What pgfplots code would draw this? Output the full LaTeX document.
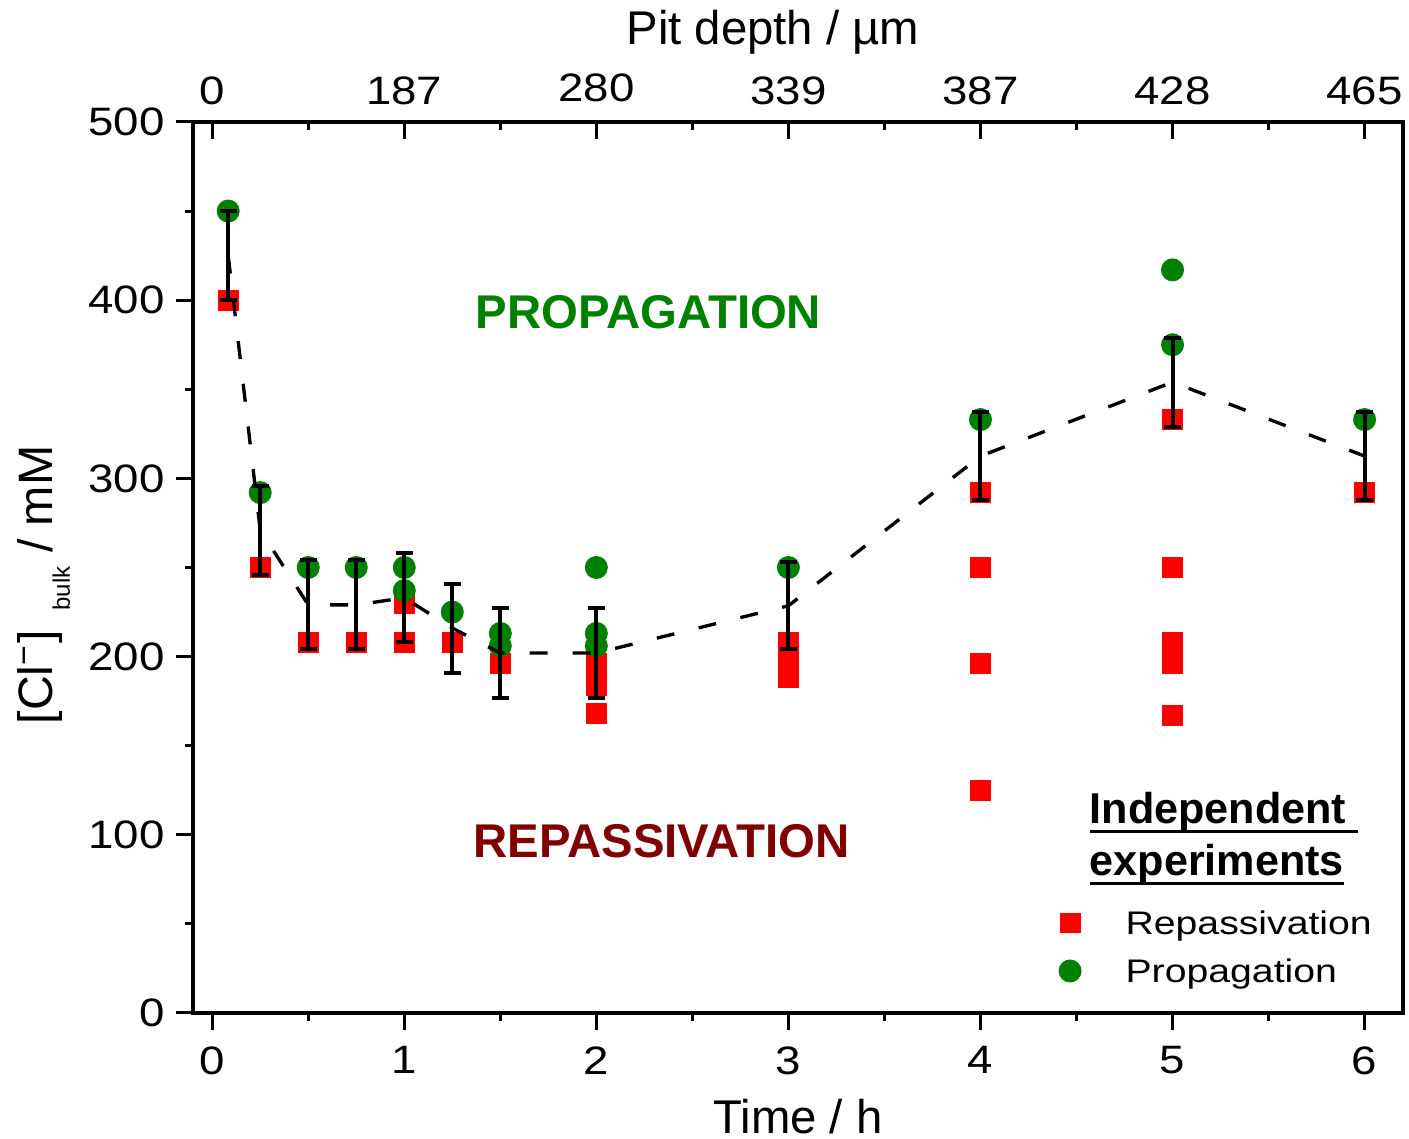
\documentclass[border=0pt]{standalone}
\usepackage{fontspec}
\setmainfont{Liberation Sans}
\newfontfamily\tickfont{Liberation Sans}[FakeStretch=1.15]
\newfontfamily\legfont{Liberation Sans}[FakeStretch=1.2]
\usepackage{pgfplots}
\pgfplotsset{compat=1.18}
\pgfplotsset{singlemark/.style={legend image code/.code={\draw[##1] plot coordinates {(0pt,0pt)};}}}
\definecolor{pgreen}{RGB}{0,128,0}
\definecolor{pred}{RGB}{255,0,0}
\definecolor{dred}{RGB}{128,0,0}
\newcommand\myul[1]{\setbox0=\hbox{#1}\leavevmode\rlap{\rule[-2.8pt]{\wd0}{1pt}}\box0}
\pgfplotstableread{
x y e
0.0833 425 25
0.25 271 25
0.5 229 25
0.75 229 25
1 233 25
1.25 216 25
1.5 202 25
2 202 25
3 228.5 24.5
4 312.5 24.5
5 354 25
6 312.5 24.5
}\meantable
\begin{document}
\begin{tikzpicture}
\begin{axis}[
  name=main, set layers,
  scale only axis, width=363pt, height=267.3pt,
  xmin=-0.1, xmax=6.2, ymin=0, ymax=500,
  axis line style={line width=1pt},
  xtick={0,1,2,3,4,5,6}, ytick={0,100,200,300,400,500},
  minor x tick num=1, minor y tick num=1,
  xtick pos=bottom, ytick pos=left,
  tick align=outside,
  major tick length=5pt, minor tick length=2.4pt,
  every tick/.style={black, line width=0.9pt},
  tick label style={font=\tickfont\fontsize{11.9pt}{14pt}\selectfont},
  xticklabel style={yshift=-1.5pt},
  /pgf/number format/assume math mode=true,
  xlabel={Time / h},
  ylabel={[Cl\textsuperscript{−}]\hspace{6pt}\raisebox{-5.1pt}{\fontsize{7.2pt}{8pt}\selectfont bulk}\ / mM},
  label style={font=\fontsize{14.2pt}{17pt}\selectfont},
  xlabel style={at={(axis description cs:0.5,-0.1358)}, anchor=base},
  ylabel style={at={(axis description cs:-0.1157,0.4804)}, anchor=base, font=\fontsize{14.5pt}{17pt}\selectfont},
  clip=false,
  legend style={draw=none, fill=none, at={(axis description cs:0.7159,0.1141)}, anchor=north west,
    inner sep=0pt, outer sep=0pt, font=\legfont\fontsize{9.8pt}{12pt}\selectfont,
    nodes={inner sep=0pt, text height=7pt, text depth=0pt}, row sep=7.4pt,
    /tikz/every odd column/.append style={column sep=13.4pt}},
  legend cell align=left,
]
\addplot[only marks, mark=square*, mark size=2.93pt, color=pred, singlemark]
coordinates {(0.0833,400)(0.25,250)(0.5,208)(0.75,208)(1,208)(1,230)(1.25,208)(1.5,196)
(2,196)(2,189)(2,184)(2,168)(3,208)(3,196)(3,188)(4,292)(4,250)(4,196)(4,125)
(5,333)(5,250)(5,208)(5,196)(5,167)(6,292)};
\addlegendentry{Repassivation}
\addplot[only marks, mark=*, mark size=3.25pt, color=pgreen, singlemark]
coordinates {(0.0833,450)(0.25,292)(0.5,250)(0.75,250)(1,250)(1,237)(1.25,225)(1.5,213)(1.5,206)
(2,250)(2,213)(2,206)(3,250)(4,333)(5,417)(5,375)(6,333)};
\addlegendentry{Propagation}
\addplot[black, line width=1pt, dash pattern=on 5.4pt off 7.5pt, mark=none, forget plot,
  on layer=axis foreground,
  error bars/.cd, y dir=both, y explicit,
  error bar style={solid, line width=1.2pt},
  error mark options={solid, rotate=90, mark size=2.55pt, line width=1.2pt}]
  table[x=x, y=y, y error=e] {\meantable};
\node[font=\bfseries\fontsize{14.2pt}{16pt}\selectfont, text=pgreen, inner sep=0pt] at (axis description cs:0.3764,0.7868) {PROPAGATION};
\node[font=\bfseries\fontsize{14.2pt}{16pt}\selectfont, text=dred, inner sep=0pt] at (axis description cs:0.3872,0.1925) {REPASSIVATION};
\node[anchor=base west, inner sep=0pt, font=\bfseries\fontsize{12.95pt}{15pt}\selectfont] at (axis description cs:0.7405,0.2126) {\myul{Independent\ }};
\node[anchor=base west, inner sep=0pt, font=\bfseries\fontsize{12.95pt}{15pt}\selectfont] at (axis description cs:0.7405,0.1542) {\myul{experiments}};
\end{axis}
\begin{axis}[
  scale only axis, width=363pt, height=267.3pt,
  xmin=-0.1, xmax=6.2, ymin=0, ymax=1,
  axis x line*=top, axis y line=none,
  axis line style={line width=1pt},
  xtick={0,1,2,3,4,5,6},
  xticklabels={0,\raisebox{-0.6pt}{187},\raisebox{1.2pt}{280},339,\raisebox{-0.9pt}{387},428,465},
  minor x tick num=1,
  tick align=inside,
  major tick length=5pt, minor tick length=2.4pt,
  every tick/.style={black, line width=0.9pt},
  tick label style={font=\tickfont\fontsize{11.9pt}{14pt}\selectfont},
  xticklabel style={yshift=1.5pt},
  xlabel={Pit depth / µm},
  xlabel style={at={(axis description cs:0.4793,1.0864)}, anchor=base, font=\fontsize{14.2pt}{17pt}\selectfont},
  clip=false,
]
\end{axis}
\pgfresetboundingbox
\path ([xshift=-57.9pt,yshift=-37.8pt]main.south west) rectangle ([xshift=1.8pt,yshift=36.6pt]main.north east);
\end{tikzpicture}
\end{document}
